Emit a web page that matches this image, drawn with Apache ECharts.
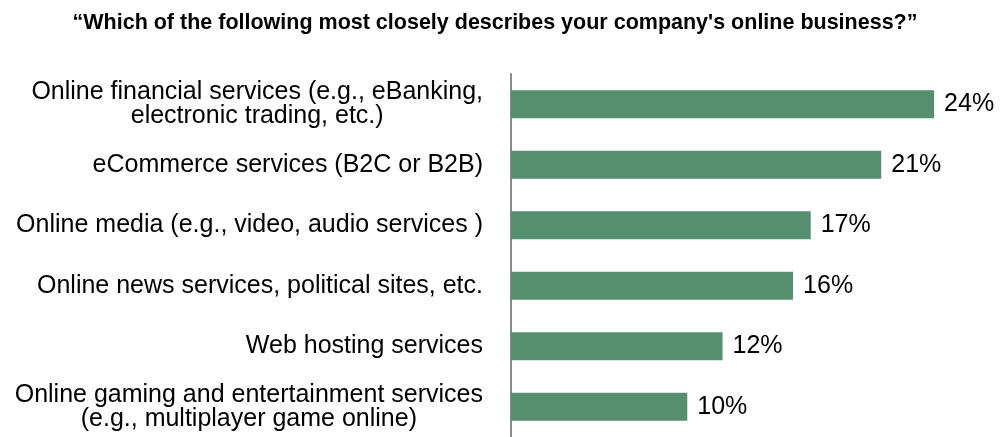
<!DOCTYPE html>
<html>
<head>
<meta charset="utf-8">
<script src="https://cdn.jsdelivr.net/npm/echarts@6/dist/echarts.min.js"></script>
<style>
  html, body { margin: 0; padding: 0; background: #ffffff; }
  #chart { width: 1005px; height: 437px; }
</style>
</head>
<body>
<div id="chart"></div>
<script>
// Survey question shown as the heading
const titleText = '\u201cWhich of the following most closely describes your company\'s online business?\u201d';

// Answer categories, top to bottom (line breaks as displayed)
const categories = [
  'Online financial services (e.g., eBanking,\nelectronic trading, etc.)',
  'eCommerce services (B2C or B2B)',
  'Online media (e.g., video, audio services )',
  'Online news services, political sites, etc.',
  'Web hosting services',
  'Online gaming and entertainment services\n(e.g., multiplayer game online)'
];

// Share of respondents, in percent
const shares = [24, 21, 17, 16, 12, 10];

const FONT = '"Liberation Sans", Arial, Helvetica, sans-serif';

const chart = echarts.init(document.getElementById('chart'), null, { renderer: 'canvas' });

chart.setOption({
  animation: false,
  backgroundColor: '#ffffff',
  title: {
    text: titleText,
    left: 490,
    textAlign: 'center',
    top: 7,
    textStyle: {
      fontFamily: FONT,
      fontWeight: 'bold',
      fontSize: 21.5,
      color: '#000000'
    }
  },
  grid: {
    left: 511,
    right: 18,
    top: 74,
    bottom: 0,
    containLabel: false
  },
  xAxis: {
    type: 'value',
    min: 0,
    max: 27,
    show: false
  },
  yAxis: {
    type: 'category',
    data: categories,
    inverse: true,
    axisLine: {
      show: true,
      lineStyle: { color: '#8a8a8a', width: 2 }
    },
    axisTick: { show: false },
    axisLabel: {
      margin: 28,
      align: 'right',
      fontFamily: FONT,
      fontSize: 25,
      color: '#000000',
      lineHeight: 24,
      // each line centred within the label block
      formatter: function (value) {
        return value.split('\n').map(function (line) { return '{c|' + line + '}'; }).join('\n');
      },
      rich: {
        c: {
          align: 'center',
          fontFamily: FONT,
          fontSize: 25,
          color: '#000000',
          lineHeight: 24
        }
      }
    }
  },
  series: [{
    type: 'bar',
    data: shares,
    barWidth: 28,
    itemStyle: { color: '#568f6e' },
    label: {
      show: true,
      position: 'right',
      distance: 10,
      formatter: '{c}%',
      fontFamily: FONT,
      fontSize: 25,
      color: '#000000'
    }
  }]
});
</script>
</body>
</html>
